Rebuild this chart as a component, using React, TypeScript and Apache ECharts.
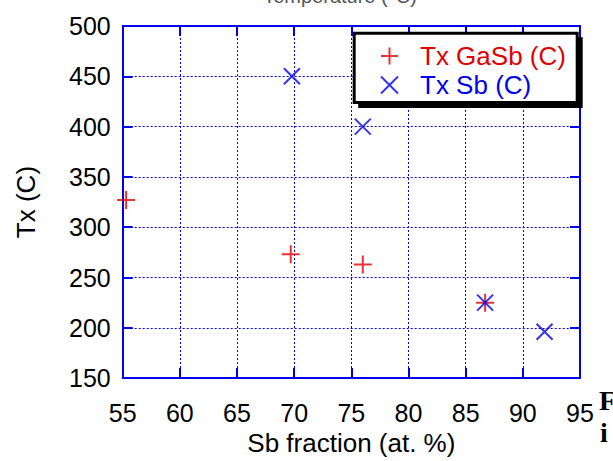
import React, { useEffect, useRef } from "react";
import * as echarts from "echarts";

const xTicks = { min: 55, max: 95, interval: 5 };
const yTicks = { min: 150, max: 500, interval: 50 };

const seriesNames = ["Tx GaSb (C)", "Tx Sb (C)"];
const gasbX = [55.3, 69.7, 76.0, 86.7];
const gasbY = [327, 273, 263, 225];
const sbX = [69.8, 76.0, 86.7, 91.9];
const sbY = [450, 400, 225, 196];

const xAxisName = "Sb fraction (at. %)";
const yAxisName = "Tx (C)";
const topTitle = "Temperature (°C)";

const RED = "#e00000";
const BLUE = "#0000ee";
const FONT = "'Liberation Sans', Arial, Helvetica, sans-serif";

const PLUS = "path://M10,0L10,20M0,10L20,10";
const CROSS = "path://M0,0L20,20M20,0L0,20";

export default function App() {
  const ref = useRef<HTMLDivElement>(null);
  useEffect(() => {
    if (!ref.current) return;
    const chart = echarts.init(ref.current, undefined, { renderer: "svg" });
    const pair = (xs: number[], ys: number[]) => xs.map((x, i) => [x, ys[i]]);
    const axisCommon = {
      type: "value" as const,
      axisLine: { show: true, onZero: false, lineStyle: { color: BLUE, width: 2 } },
      axisTick: { show: true, inside: true, length: 10, lineStyle: { color: BLUE, width: 2 } },
    };
    chart.setOption({
      animation: false,
      backgroundColor: "#fff",
      grid: { left: 122.7, right: 33, top: 26, bottom: 76, containLabel: false },
      xAxis: [
        {
          ...axisCommon,
          position: "bottom",
          min: xTicks.min,
          max: xTicks.max,
          interval: xTicks.interval,
          name: xAxisName,
          nameLocation: "middle",
          nameGap: 38,
          nameTextStyle: { fontSize: 26, color: "#000", fontFamily: FONT },
          axisLabel: { fontSize: 25, color: "#000", fontFamily: FONT, margin: 22 },
          splitLine: { show: true, lineStyle: { color: BLUE, width: 1, type: [2, 2] } },
        },
        {
          ...axisCommon,
          position: "top",
          min: xTicks.min,
          max: xTicks.max,
          interval: xTicks.interval,
          axisLabel: { show: false },
          splitLine: { show: false },
        },
      ],
      yAxis: [
        {
          ...axisCommon,
          position: "left",
          min: yTicks.min,
          max: yTicks.max,
          interval: yTicks.interval,
          name: yAxisName,
          nameLocation: "middle",
          nameGap: 84,
          nameTextStyle: { fontSize: 26, color: "#000", fontFamily: FONT },
          axisLabel: { fontSize: 25, color: "#000", fontFamily: FONT, margin: 12 },
          splitLine: { show: true, lineStyle: { color: BLUE, width: 1, type: [2, 2] } },
        },
        {
          ...axisCommon,
          position: "right",
          min: yTicks.min,
          max: yTicks.max,
          interval: yTicks.interval,
          axisLabel: { show: false },
          splitLine: { show: false },
        },
      ],
      legend: {
        orient: "vertical",
        left: 380,
        top: 43,
        padding: 0,
        itemGap: 3,
        itemWidth: 51,
        itemHeight: 17,
        z: 10,
        textStyle: { fontSize: 26, fontFamily: FONT },
        data: [
          { name: seriesNames[0], textStyle: { color: RED } },
          { name: seriesNames[1], textStyle: { color: BLUE } },
        ],
      },
      graphic: [
        {
          type: "rect",
          z: 5,
          shape: { x: 358.2, y: 37.2, width: 224.5, height: 70.8 },
          style: { fill: "#000" },
        },
        {
          type: "rect",
          z: 6,
          shape: { x: 354.2, y: 33.2, width: 223, height: 69.3 },
          style: { fill: "#fff", stroke: "#000", lineWidth: 3 },
        },
        {
          type: "text",
          z: 6,
          x: 340,
          y: 6,
          style: {
            text: topTitle,
            fontSize: 20,
            fontFamily: FONT,
            fill: "#555",
            align: "center",
            verticalAlign: "bottom",
          },
        },
        {
          type: "text",
          z: 6,
          x: 599,
          y: 414,
          style: {
            text: "F",
            fontSize: 28,
            fontWeight: "bold",
            fontFamily: "'Liberation Serif', 'Times New Roman', serif",
            fill: "#000",
            verticalAlign: "bottom",
          },
        },
        {
          type: "text",
          z: 6,
          x: 600,
          y: 446,
          style: {
            text: "i",
            fontSize: 28,
            fontWeight: "bold",
            fontFamily: "'Liberation Serif', 'Times New Roman', serif",
            fill: "#000",
            verticalAlign: "bottom",
          },
        },
      ],
      series: [
        {
          name: seriesNames[0],
          type: "scatter",
          symbol: PLUS,
          symbolSize: 18,
          z: 3,
          itemStyle: { color: RED, borderColor: RED, borderWidth: 2 },
          data: pair(gasbX, gasbY),
        },
        {
          name: seriesNames[1],
          type: "scatter",
          symbol: CROSS,
          symbolSize: 16,
          z: 4,
          itemStyle: { color: BLUE, borderColor: BLUE, borderWidth: 2 },
          data: pair(sbX, sbY),
        },
      ],
    });
    return () => chart.dispose();
  }, []);
  return (
    <div
      ref={ref}
      style={{ position: "absolute", left: 0, top: 0, width: 613, height: 461 }}
    />
  );
}
